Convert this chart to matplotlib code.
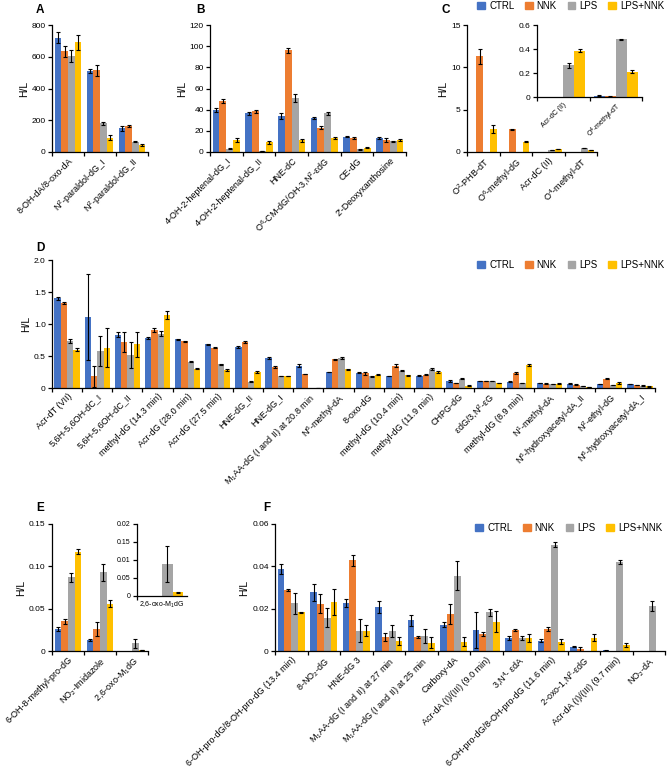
import numpy as np
import matplotlib
matplotlib.use("Agg")
import matplotlib.pyplot as plt
from matplotlib.patches import Patch

plt.rcParams['font.family'] = ['Liberation Sans', 'DejaVu Sans']
plt.rcParams['mathtext.default'] = 'regular'

# Gruppi e colori
GRUPPI = ["CTRL", "NNK", "LPS", "LPS+NNK"]
COLORI = ["#4472C4", "#ED7D31", "#A5A5A5", "#FFC000"]

# Pannello A
cat_a = ["8-OH-dA/8-oxo-dA", "N$^2$-paraldol-dG_I", "N$^2$-paraldol-dG_II"]
val_a = [[720, 510, 150], [635, 515, 165], [605, 180, 65], [690, 90, 45]]
err_a = [[35, 15, 15], [35, 35, 8], [40, 8, 5], [45, 15, 5]]

# Pannello B
cat_b = ["4-OH-2-heptenal-dG_I", "4-OH-2-heptenal-dG_II", "HNE-dC",
         "O$^6$-CM-dG/OH-3,N$^2$-εdG", "CE-dG", "2'-Deoxyxanthosine"]
val_b = [[40, 36.5, 34, 32.5, 14.5, 13], [48, 38.5, 96, 23, 13.5, 11.3],
         [3, 1, 51, 36.5, 2.5, 10], [11, 9, 11, 13.5, 4, 11]]
err_b = [[2, 1.5, 3, 1, 0.5, 0.8], [2, 1.5, 2, 1.5, 0.8, 1.5],
         [0.5, 0.3, 4, 1.5, 0.3, 0.5], [2, 1.5, 1.5, 0.8, 0.5, 1]]

# Pannello C (e riquadro)
cat_c = ["O$^2$-PHB-dT", "O$^6$-methyl-dG", "Acr-dC (II)", "O$^4$-methyl-dT"]
val_c = [[0, 0, 0, 0.01], [11.3, 2.7, 0, 0.005], [0, 0, 0.27, 0.48], [2.7, 1.2, 0.385, 0.21]]
err_c = [[0, 0, 0, 0], [0.9, 0.05, 0, 0], [0, 0, 0.02, 0.005], [0.45, 0.05, 0.012, 0.012]]
cat_c_ins = ["Acr-dC (II)", "O$^4$-methyl-dT"]
val_c_ins = [[0, 0.01], [0, 0.005], [0.265, 0.48], [0.385, 0.21]]
err_c_ins = [[0, 0.003], [0, 0.002], [0.02, 0.005], [0.012, 0.012]]

# Pannello D
cat_d = ["Acr-dT (VII)", "5,6H-5,6OH-dC_I", "5,6H-5,6OH-dC_II", "methyl-dG (14.3 min)",
         "Acr-dG (28.0 min)", "Acr-dG (27.5 min)", "HNE-dG_II", "HNE-dG_I",
         "M$_1$AA-dG (I and II) at 20.8 min", "N$^6$-methyl-dA", "8-oxo-dG",
         "methyl-dG (10.4 min)", "methyl-dG (11.9 min)", "CHPG-dG", "εdG/3,N$^2$-εG",
         "methyl-dG (8.9 min)", "N$^1$-methyl-dA", "N$^6$-hydroxyacetyl-dA_II",
         "N$^2$-ethyl-dG", "N$^6$-hydroxyacetyl-dA_I"]
val_d = [[1.40, 1.11, 0.83, 0.78, 0.76, 0.68, 0.64, 0.47, 0.35, 0.25, 0.24, 0.19, 0.19, 0.11, 0.11, 0.10, 0.08, 0.07, 0.06, 0.06],
         [1.33, 0.18, 0.72, 0.90, 0.73, 0.63, 0.72, 0.33, 0.22, 0.45, 0.23, 0.35, 0.21, 0.08, 0.11, 0.23, 0.07, 0.05, 0.145, 0.045],
         [0.74, 0.58, 0.52, 0.85, 0.41, 0.37, 0.10, 0.19, 0.0, 0.47, 0.18, 0.27, 0.30, 0.145, 0.11, 0.08, 0.06, 0.03, 0.045, 0.035],
         [0.60, 0.63, 0.68, 1.14, 0.30, 0.28, 0.25, 0.19, 0.005, 0.29, 0.21, 0.20, 0.25, 0.035, 0.08, 0.36, 0.07, 0.015, 0.08, 0.025]]
err_d = [[0.02, 0.67, 0.04, 0.02, 0.01, 0.01, 0.02, 0.01, 0.02, 0.005, 0.005, 0.005, 0.01, 0.01, 0.005, 0.005, 0.005, 0.005, 0.005, 0.005],
         [0.01, 0.17, 0.15, 0.03, 0.01, 0.005, 0.01, 0.02, 0.005, 0.01, 0.02, 0.02, 0.005, 0.005, 0.005, 0.015, 0.005, 0.005, 0.005, 0.005],
         [0.03, 0.23, 0.20, 0.04, 0.01, 0.005, 0.005, 0.005, 0.0, 0.01, 0.005, 0.005, 0.02, 0.005, 0.005, 0.005, 0.005, 0.005, 0.005, 0.005],
         [0.02, 0.30, 0.20, 0.06, 0.01, 0.01, 0.02, 0.005, 0.002, 0.01, 0.005, 0.005, 0.02, 0.005, 0.005, 0.01, 0.005, 0.002, 0.01, 0.003]]

# Pannello E (e riquadro)
cat_e = ["6-OH-8-methyl-pro-dG", "NO$_2$-Imidazole", "2,6-oxo-M$_1$dG"]
val_e = [[0.026, 0.013, 0], [0.035, 0.026, 0], [0.087, 0.093, 0.009], [0.117, 0.056, 0.001]]
err_e = [[0.002, 0.001, 0], [0.003, 0.008, 0], [0.005, 0.01, 0.005], [0.003, 0.004, 0.0002]]
cat_e_ins = ["2,6-oxo-M$_1$dG"]
val_e_ins = [[0], [0], [0.009], [0.001]]
err_e_ins = [[0], [0], [0.005], [0.0002]]

# Pannello F
cat_f = ["6-OH-pro-dG/8-OH-pro-dG (13.4 min)", "8-NO$_2$-dG", "HNE-dG 3",
         "M$_1$AA-dG (I and II) at 27 min", "M$_1$AA-dG (I and II) at 25 min", "Carboxy-dA",
         "Acr-dA (I)/(III) (9.0 min)", "3,N$^4$- εdA", "6-OH-pro-dG/8-OH-pro-dG (11.6 min)",
         "2-oxo-1,N$^2$-εdG", "Acr-dA (I)/(III) (9.7 min)", "NO$_2$-dA"]
val_f = [[0.0387, 0.0278, 0.0226, 0.0207, 0.0145, 0.0125, 0.0100, 0.0062, 0.0049, 0.0021, 0.0003, 0],
         [0.0289, 0.0223, 0.0428, 0.0066, 0.0068, 0.0174, 0.0081, 0.0100, 0.0103, 0.0011, 0, 0],
         [0.0226, 0.0157, 0.0096, 0.0095, 0.0071, 0.0356, 0.0182, 0.0063, 0.0503, 0, 0.0419, 0.0213],
         [0.0182, 0.0232, 0.0096, 0.0047, 0.0040, 0.0044, 0.0138, 0.0062, 0.0044, 0.0062, 0.0028, 0]]
err_f = [[0.0025, 0.004, 0.0018, 0.0028, 0.0025, 0.0013, 0.0085, 0.0008, 0.0007, 0.0003, 0.0002, 0],
         [0.0005, 0.0045, 0.0025, 0.0018, 0.0005, 0.0047, 0.001, 0.0004, 0.001, 0.001, 0, 0],
         [0.005, 0.0045, 0.0055, 0.003, 0.0032, 0.007, 0.0015, 0.001, 0.001, 0, 0.001, 0.0022],
         [0.0003, 0.006, 0.0025, 0.0018, 0.0027, 0.002, 0.005, 0.002, 0.0013, 0.0017, 0.001, 0]]

LARG = 0.21


# Funzione per disegnare un pannello a barre raggruppate
def disegna(ax, cat, val, err, yticks, ylabels, ylabel=True, rot=45, fs_cat=6.5):
    n = len(cat)
    x = np.arange(n)
    for i in range(4):
        ax.bar(x + (i - 1.5) * LARG, val[i], LARG, color=COLORI[i], linewidth=0)
        e = np.array(err[i])
        mask = e > 0
        ax.errorbar((x + (i - 1.5) * LARG)[mask], np.array(val[i])[mask], yerr=e[mask],
                    fmt='none', ecolor='black', elinewidth=0.8, capsize=1.6, capthick=0.8)
    ax.set_xlim(-0.5, n - 0.5)
    ax.set_ylim(yticks[0], yticks[-1])
    ax.set_yticks(yticks)
    ax.set_yticklabels(ylabels, fontsize=6)
    ax.set_xticks(np.arange(n + 1) - 0.5)
    ax.set_xticklabels([])
    ax.set_xticks(x, minor=True)
    if rot:
        ax.set_xticklabels(cat, minor=True, rotation=rot, ha='right',
                           rotation_mode='anchor', fontsize=fs_cat)
    else:
        ax.set_xticklabels(cat, minor=True, fontsize=fs_cat)
    ax.tick_params(axis='x', which='minor', length=0, pad=3)
    ax.tick_params(axis='both', which='major', length=3, width=0.9, direction='out', pad=1.5)
    for s in ['top', 'right']:
        ax.spines[s].set_visible(False)
    for s in ['left', 'bottom']:
        ax.spines[s].set_linewidth(0.9)
    if ylabel:
        ax.set_ylabel("H/L", fontsize=7.5, labelpad=2)


def legenda(fig, x, y):
    handles = [Patch(color=c, label=g) for g, c in zip(GRUPPI, COLORI)]
    fig.legend(handles=handles, loc='center right', bbox_to_anchor=(x, y), ncol=4,
               frameon=False, fontsize=7, handlelength=0.8, handleheight=0.8,
               handletextpad=0.4, columnspacing=1.1, borderaxespad=0)


W, H = 669, 778
fig = plt.figure(figsize=(W / 100, H / 100), dpi=100)


def assi(x0, y0, x1, y1):
    # coordinate in pixel (origine in alto a sinistra)
    return fig.add_axes([x0 / W, 1 - y1 / H, (x1 - x0) / W, (y1 - y0) / H])


ax_a = assi(52, 25, 148, 152)
disegna(ax_a, cat_a, val_a, err_a, [0, 200, 400, 600, 800], ["0", "200", "400", "600", "800"])

ax_b = assi(210, 25, 406, 152)
disegna(ax_b, cat_b, val_b, err_b, [0, 20, 40, 60, 80, 100, 120],
        ["0", "20", "40", "60", "80", "100", "120"])

ax_c = assi(467, 25, 597, 152)
disegna(ax_c, cat_c, val_c, err_c, [0, 5, 10, 15], ["0", "5", "10", "15"])

ax_ci = assi(537, 25, 642, 97)
disegna(ax_ci, cat_c_ins, val_c_ins, err_c_ins, [0, 0.2, 0.4, 0.6], ["0", "0.2", "0.4", "0.6"],
        ylabel=False, fs_cat=5)

ax_d = assi(52, 260, 655, 388)
disegna(ax_d, cat_d, val_d, err_d, [0, 0.5, 1.0, 1.5, 2.0], ["0", "0.5", "1.0", "1.5", "2.0"])

ax_e = assi(52, 524, 148, 651)
disegna(ax_e, cat_e, val_e, err_e, [0, 0.05, 0.10, 0.15], ["0", "0.05", "0.10", "0.15"])

ax_ei = assi(137, 524, 187, 596)
disegna(ax_ei, cat_e_ins, val_e_ins, err_e_ins, [0, 0.005, 0.01, 0.015, 0.02],
        ["0", "0.05", "0.01", "0.15", "0.02"], ylabel=False, rot=0, fs_cat=5)
ax_ei.set_xticks([-0.5], minor=False)
ax_ei.set_xticklabels([])
for t in ax_ei.get_yticklabels():
    t.set_fontsize(5)

ax_f = assi(275, 524, 665, 651)
disegna(ax_f, cat_f, val_f, err_f, [0, 0.02, 0.04, 0.06], ["0", "0.02", "0.04", "0.06"])

# Lettere dei pannelli
for lettera, px, py in [("A", 36, 10), ("B", 196, 10), ("C", 442, 10),
                        ("D", 36, 248), ("E", 36, 508), ("F", 263, 508)]:
    fig.text(px / W, 1 - py / H, lettera, fontsize=8.5, fontweight='bold', va='center')

# Legende
legenda(fig, 668 / W, 1 - 6 / H)
legenda(fig, 668 / W, 1 - 265 / H)
legenda(fig, 666 / W, 1 - 528 / H)

fig.savefig("out.png", dpi=100)
